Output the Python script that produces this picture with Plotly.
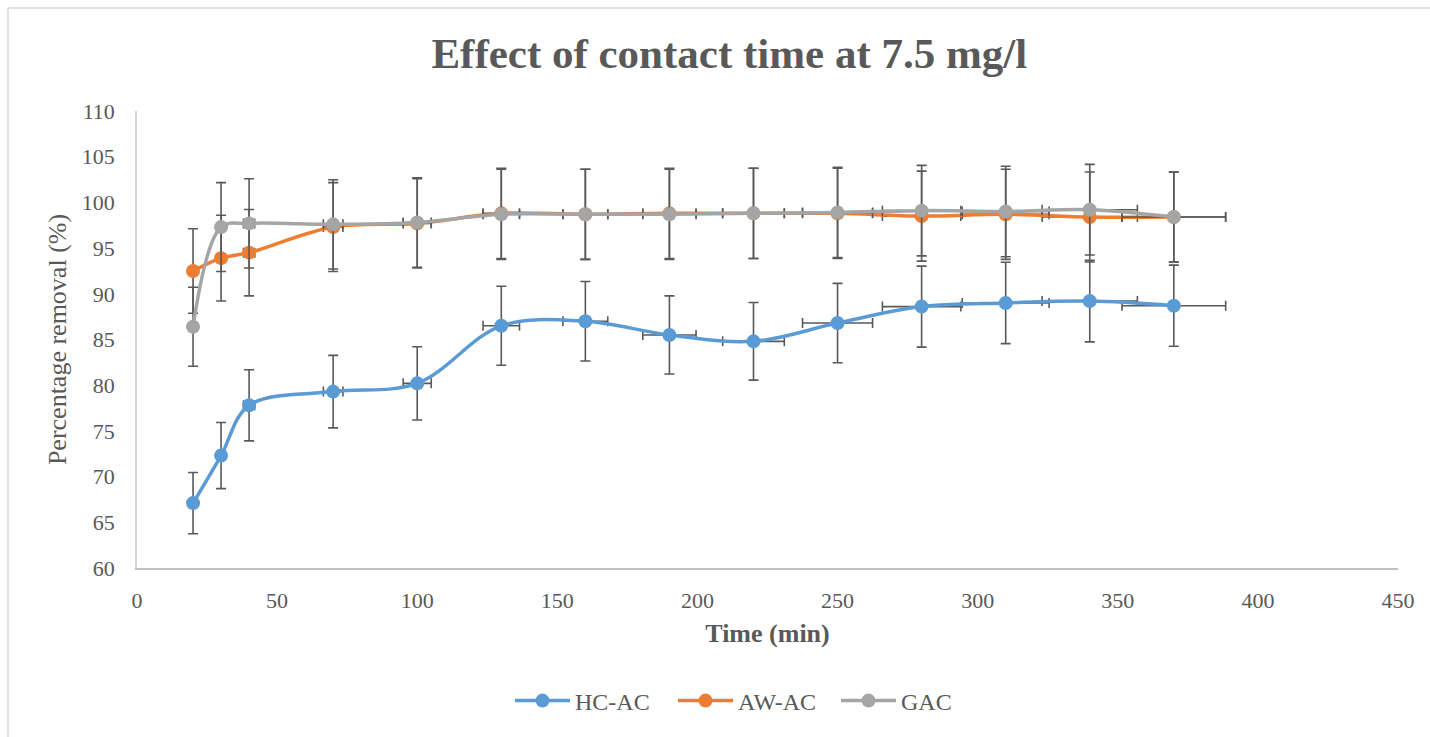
import plotly.graph_objects as go

time_min = [20, 30, 40, 70, 100, 130, 160, 190, 220, 250, 280, 310, 340, 370]
hc_ac = [67.1, 72.3, 77.8, 79.3, 80.2, 86.5, 87.0, 85.5, 84.8, 86.8, 88.6, 89.0, 89.2, 88.7]
aw_ac = [92.5, 93.9, 94.5, 97.3, 97.7, 98.8, 98.7, 98.8, 98.8, 98.8, 98.5, 98.7, 98.4, 98.4]
gac = [86.4, 97.3, 97.7, 97.6, 97.8, 98.7, 98.7, 98.7, 98.8, 98.9, 99.1, 99.0, 99.2, 98.4]
error_pct = 5  # Excel default percentage error bars (x and y)

series = [("HC-AC", hc_ac, "#5B9BD5"), ("AW-AC", aw_ac, "#ED7D31"), ("GAC", gac, "#A5A5A5")]

W, H = 1430, 737
ML, MR, MT, MB = 137, 32, 111, 169
FONT = "Liberation Serif, Times New Roman, serif"
TXT = "#595959"

fig = go.Figure()
for name, vals, col in series:
    fig.add_trace(go.Scatter(
        x=time_min, y=vals, name=name, mode="lines+markers",
        line=dict(color=col, width=3.5, shape="spline", smoothing=1),
        marker=dict(color=col, size=14),
        error_y=dict(type="percent", value=error_pct, color="#595959", thickness=1.6, width=5),
        error_x=dict(type="percent", value=error_pct, color="#595959", thickness=1.6, width=5),
    ))

pw = W - ML - MR
ph = H - MT - MB
def px_x(p):
    return (p - ML) / pw
def px_y(p):
    return (H - MB - p) / ph

fig.add_shape(type="line", xref="paper", yref="paper", x0=px_x(8), x1=px_x(1430), y0=px_y(8), y1=px_y(8),
              line=dict(color="#D9D9D9", width=1.5))
fig.add_shape(type="line", xref="paper", yref="paper", x0=px_x(8), x1=px_x(8), y0=px_y(8), y1=px_y(737),
              line=dict(color="#D9D9D9", width=1.5))

fig.update_layout(
    width=W, height=H,
    margin=dict(l=ML, r=MR, t=MT, b=MB),
    paper_bgcolor="white", plot_bgcolor="white",
    font=dict(family=FONT, color=TXT, size=22),
    title=dict(text="<b>Effect of contact time at 7.5 mg/l</b>", x=0.51, xanchor="center",
               y=1 - 53 / H, yanchor="middle", font=dict(size=43, color=TXT, family=FONT)),
    xaxis=dict(range=[0, 450], dtick=50, tick0=0, showgrid=False, zeroline=False,
               showline=True, linecolor="#BFBFBF", linewidth=1.5, ticks="",
               ticklabelstandoff=12, tickfont=dict(size=22, color=TXT),
               title=dict(text="<b>Time (min)</b>", font=dict(size=26, color=TXT), standoff=12)),
    yaxis=dict(range=[60, 110], dtick=5, tick0=60, showgrid=False, zeroline=False,
               showline=True, linecolor="#D9D9D9", linewidth=1.5, ticks="",
               ticklabelstandoff=16, tickfont=dict(size=22, color=TXT),
               title=dict(text="Percentage removal (%)", font=dict(size=26, color=TXT), standoff=8)),
    legend=dict(orientation="h", x=px_x(510), xanchor="left", y=px_y(701), yanchor="middle",
                font=dict(size=24, color=TXT), itemwidth=55, entrywidth=93, tracegroupgap=0),
    showlegend=True,
)

fig.write_html("out.html")
